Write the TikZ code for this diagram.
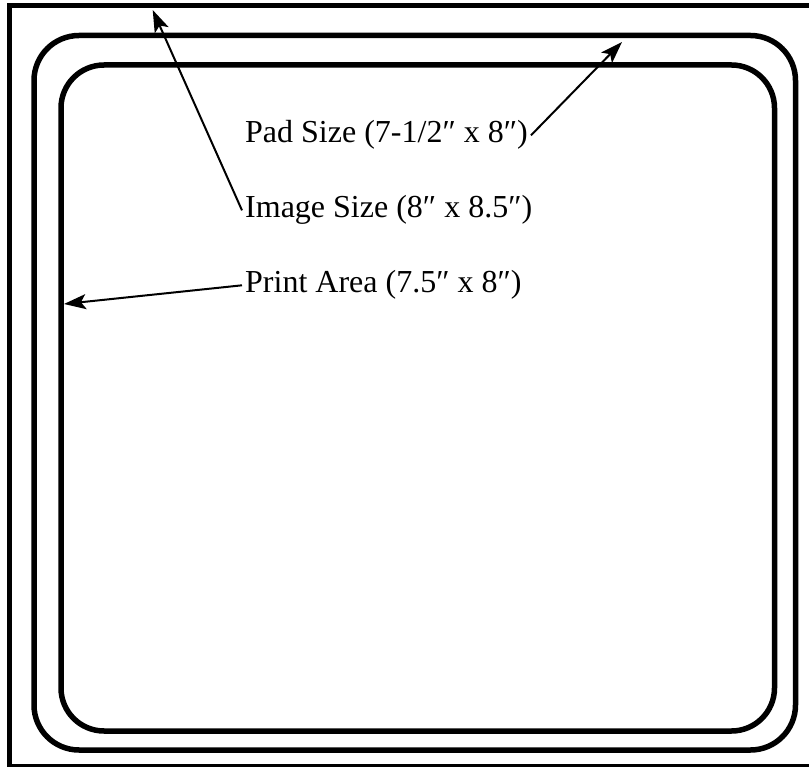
\documentclass[tikz,border=0pt]{standalone}
\usepackage{fontspec}
\setmainfont{Liberation Serif}
\usetikzlibrary{arrows.meta}

\tikzset{
  padline/.style={line width=5.5pt,rounded corners=#1},
  lbl/.style={anchor=base west,inner sep=3pt,font=\fontsize{32}{38}\selectfont},
  pointer/.style={line width=2pt,-{Stealth[length=22pt,width=15pt,inset=5pt]}}
}

\begin{document}
\begin{tikzpicture}[x=1pt,y=-1pt]
    \useasboundingbox (0,0) rectangle (809,767);
    \begin{scope}
      \draw[line width=5pt] (9.5,5.5) rectangle (812,766);
      \foreach \l/\t/\r/\b/\c in {34/35.5/795.5/750/45,61/65/774.5/731/43}{
        \draw[padline=\c pt] (\l,\t) rectangle (\r,\b);
       }
      \node[lbl] (pad) at (242,143) {Pad Size (7-1/2″ x 8″)};
      \node[lbl] (image) at (242,218) {Image Size (8″ x 8.5″)};
      \node[lbl] (print) at (242,293) {Print Area (7.5″ x 8″)};
      \coordinate (padtip) at (622,42);
      \coordinate (imagetip) at (152.7,10);
      \coordinate (printtip) at (64,304);
      \draw[pointer] (pad.east) -- (padtip);
      \draw[pointer] (image.west) -- (imagetip);
      \draw[pointer] (print.west) -- (printtip);
    \end{scope}
  \end{tikzpicture}
\end{document}
